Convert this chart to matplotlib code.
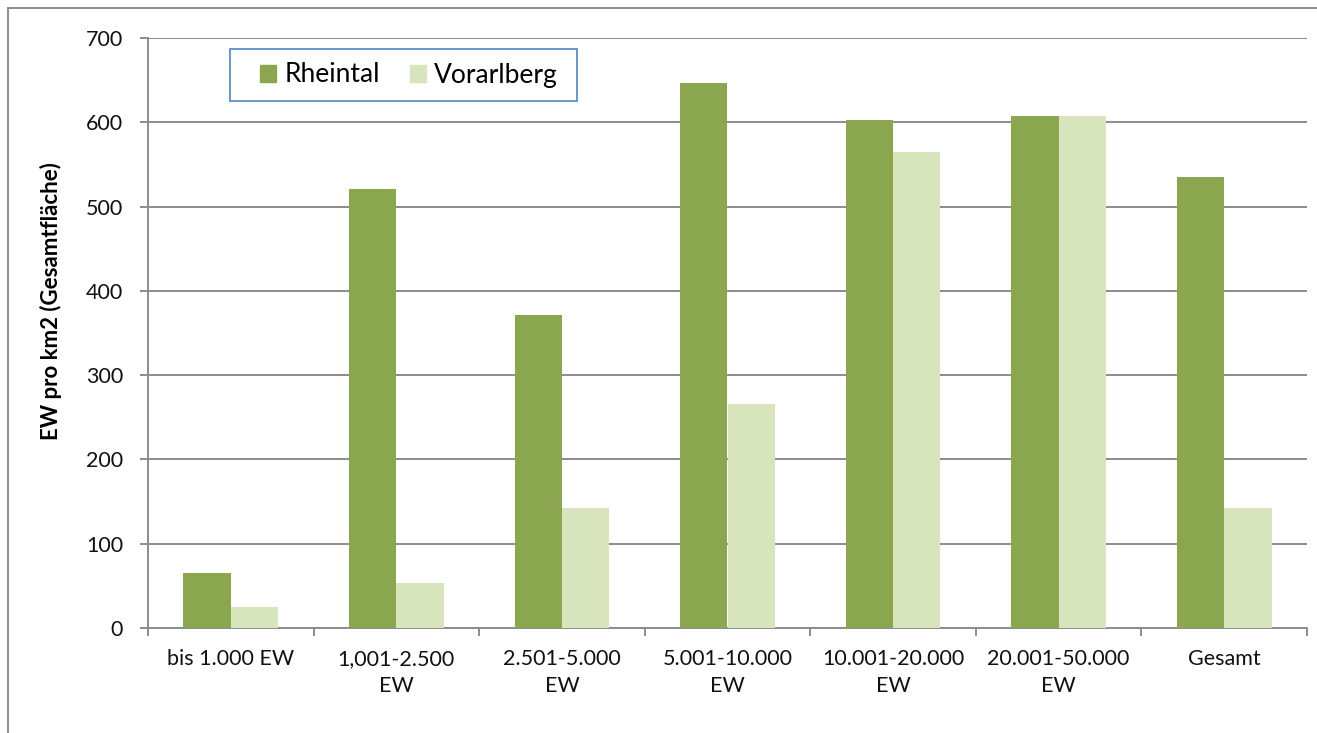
import matplotlib
matplotlib.use("Agg")
import matplotlib.pyplot as plt
from matplotlib.lines import Line2D
from matplotlib.patches import Patch, Rectangle
import numpy as np

categories = ["bis 1.000 EW", "1,001-2.500\nEW", "2.501-5.000\nEW", "5.001-10.000\nEW",
              "10.001-20.000\nEW", "20.001-50.000\nEW", "Gesamt"]
rheintal = [65, 521, 371, 647, 603, 607, 535]
vorarlberg = [25, 53, 142, 266, 565, 607, 142]
y_ticks = [0, 100, 200, 300, 400, 500, 600, 700]

plt.rcParams["font.family"] = ["Lato", "DejaVu Sans"]

W, H = 1317, 733
fig = plt.figure(figsize=(W / 100, H / 100), dpi=100)
ax = fig.add_axes([148 / W, (H - 628) / H, (1307 - 148) / W, (628 - 38) / H])

green = "#8AA64F"
light = "#D8E4BC"
grid_c = "#8C8C8C"

n = len(categories)
centers = np.arange(n) + 0.5
bw = 1 / 3.5
ax.bar(centers - bw / 2, rheintal, bw, color=green, label="Rheintal", zorder=3)
ax.bar(centers + bw / 2, vorarlberg, bw, color=light, label="Vorarlberg", zorder=3)

ax.set_xlim(0, n)
ax.set_ylim(0, 700)
ax.set_yticks(y_ticks)
ax.set_yticklabels([str(v) for v in y_ticks], fontsize=15.5, color="#111111")
ax.yaxis.grid(True, color=grid_c, linewidth=1.4, zorder=0)
ax.set_axisbelow(True)

ax.set_xticks(centers)
ax.set_xticklabels(categories, fontsize=15.5, color="#111111", linespacing=1.45)
ax.set_xticks(np.arange(n + 1), minor=True)
ax.tick_params(axis="x", which="major", length=0, pad=15)
ax.tick_params(axis="x", which="minor", length=6, width=1.4, color=grid_c, direction="out")
ax.tick_params(axis="y", length=6, width=1.4, color=grid_c, direction="out", pad=12)

for s in ["top", "right"]:
    ax.spines[s].set_visible(False)
for s in ["left", "bottom"]:
    ax.spines[s].set_color(grid_c)
    ax.spines[s].set_linewidth(1.4)

ax.set_ylabel("EW pro km2 (Gesamtfläche)", fontsize=16, fontweight="bold", labelpad=12)
ax.yaxis.set_label_coords(-(148 - 62) / 1159, (628 - 301) / 590)


def px(x, y):
    """Figure pixel (from top-left) to axes fraction."""
    return (x - 148) / 1159, (628 - y) / 590


# legend frame
x0, y0 = px(230, 101)
x1, y1 = px(577, 49)
ax.add_patch(Rectangle((x0, y0), x1 - x0, y1 - y0, transform=ax.transAxes, facecolor="white",
                       edgecolor="#5B8FD0", linewidth=1.3, zorder=5, clip_on=False))
leg = ax.legend(handles=[Patch(color=green, label="Rheintal"), Patch(color=light, label="Vorarlberg")],
                ncol=2, loc="center", bbox_to_anchor=px(409, 75),
                fontsize=19, frameon=False, handlelength=0.62, handleheight=0.62,
                handletextpad=0.3, columnspacing=1.15, borderpad=0, borderaxespad=0)
leg.set_zorder(6)

# outer chart frame
fig.add_artist(Line2D([8 / W, 8 / W], [0, 1 - 8 / H], color="#8C8C8C", linewidth=1.4))
fig.add_artist(Line2D([8 / W, 1], [1 - 8 / H, 1 - 8 / H], color="#8C8C8C", linewidth=1.4))

fig.savefig("out.png", dpi=100)
